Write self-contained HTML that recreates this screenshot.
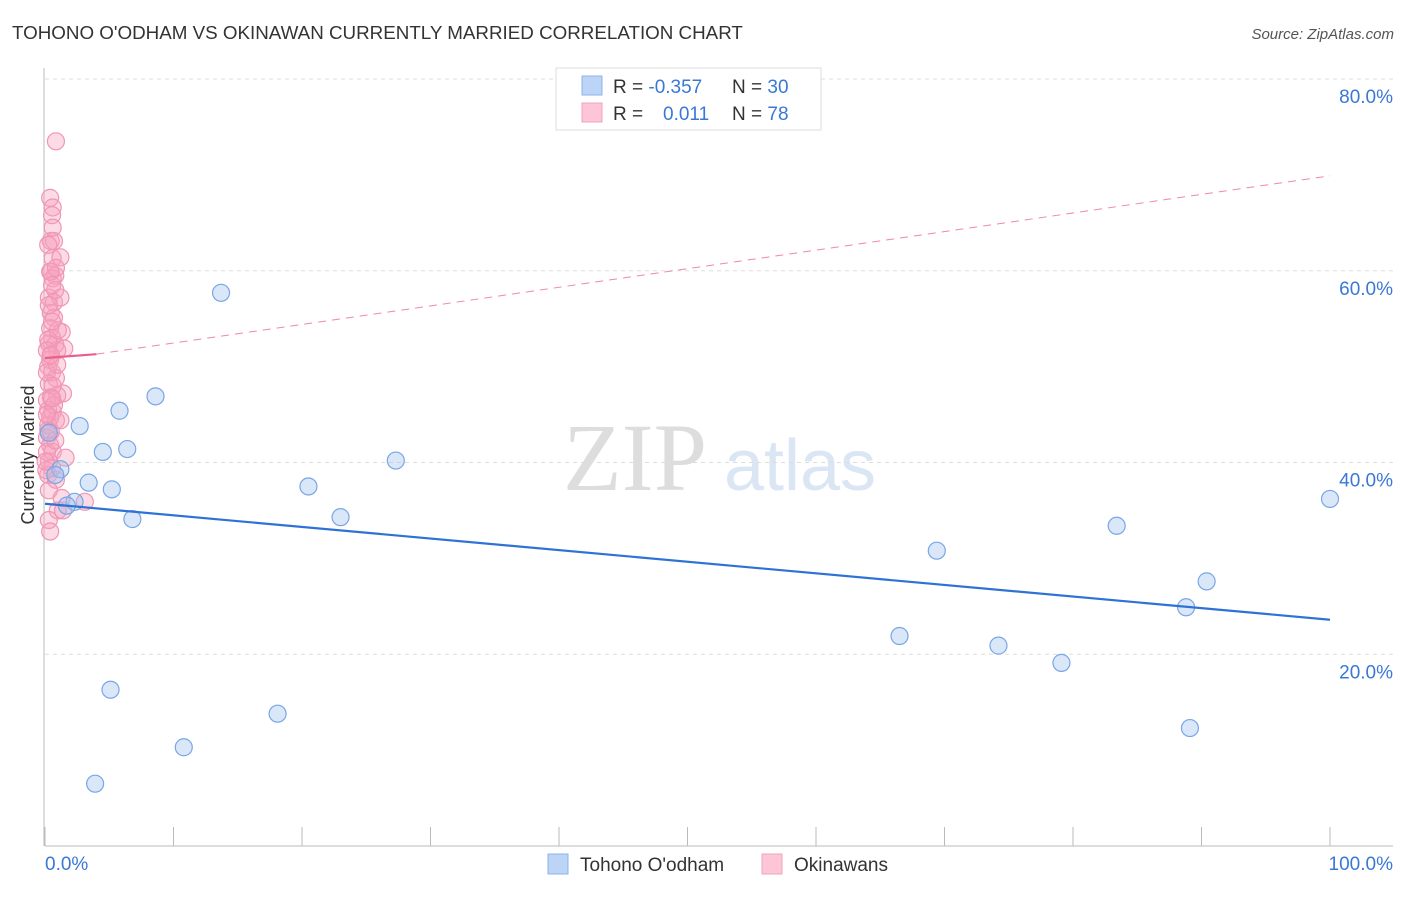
<!DOCTYPE html>
<html><head><meta charset="utf-8"><style>
body{margin:0;background:#fff;font-family:"Liberation Sans",sans-serif}
</style></head><body>
<svg id="c" width="1406" height="892" xmlns="http://www.w3.org/2000/svg" style="font-family:'Liberation Sans',sans-serif">
<text x="12" y="39" font-size="18.8" fill="#333">TOHONO O'ODHAM VS OKINAWAN CURRENTLY MARRIED CORRELATION CHART</text>
<text x="1394" y="39" font-size="15" fill="#555" text-anchor="end" font-style="italic">Source: ZipAtlas.com</text>
<g>
<text x="635" y="490" font-size="96" fill="#ddd" text-anchor="middle" font-family="Liberation Serif,serif">ZIP</text>
<text x="800" y="490" font-size="72" fill="#dbe6f5" text-anchor="middle">atlas</text>
</g>
<g id="grid"></g>
<g id="axes"></g>
<text transform="translate(34,455) rotate(-90)" font-size="18" fill="#333" text-anchor="middle">Currently Married</text>
<g id="marks"></g>
<g>
<rect x="556" y="68" width="265" height="62" fill="#fff" stroke="#ddd"/>
<rect x="582" y="76" width="20" height="19" fill="#bcd4f6" stroke="#8bb2ea"/>
<rect x="582" y="103" width="20" height="19" fill="#fcc6d6" stroke="#f0a0bc"/>
<text x="613" y="93" font-size="19" fill="#333">R = <tspan fill="#3a78d6">-0.357</tspan></text>
<text x="732" y="93" font-size="19" fill="#333">N = <tspan fill="#3a78d6">30</tspan></text>
<text x="613" y="120" font-size="19" fill="#333">R = <tspan fill="#3a78d6" x="663">0.011</tspan></text>
<text x="732" y="120" font-size="19" fill="#333">N = <tspan fill="#3a78d6">78</tspan></text>
</g>
<g>
<rect x="548" y="854" width="20" height="20" fill="#bcd4f6" stroke="#8bb2ea"/>
<text x="580" y="871" font-size="19" fill="#333">Tohono O'odham</text>
<rect x="762" y="854" width="20" height="20" fill="#fcc6d6" stroke="#f0a0bc"/>
<text x="794" y="871" font-size="19" fill="#333">Okinawans</text>
</g>
</svg>
<script>
const yTicks=[20,40,60,80];
const yTickLabels=["20.0%","40.0%","60.0%","80.0%"];
const xTicks=[0,10,20,30,40,50,60,70,80,90,100];
const blueX=[13.7,8.6,5.8,2.7,0.3,6.4,4.5,1.2,0.8,3.4,5.2,2.3,1.7,6.8,20.5,23.0,27.3,5.1,18.1,10.8,3.9,100,83.4,69.4,90.4,88.8,66.5,74.2,79.1,89.1];
const blueY=[57.7,46.9,45.4,43.8,43.1,41.4,41.1,39.3,38.7,37.9,37.2,35.9,35.5,34.1,37.5,34.3,40.2,16.3,13.8,10.3,6.5,36.2,33.4,30.8,27.6,24.9,21.9,20.9,19.1,12.3];
const pinkX=[0.85,0.4,0.6,0.55,0.45,0.7,0.6,1.2,0.45,0.8,0.6,0.3,0.7,0.45,0.7,1.3,0.4,0.55,0.3,0.8,1.5,0.95,0.4,0.25,0.55,0.85,0.3,1.4,0.45,0.95,0.25,0.6,0.85,0.25,0.45,0.15,0.4,0.6,1.6,0.3,0.55,0.25,0.85,1.0,3.1,1.4,0.3,0.4,0.15,0.45,0.25,1.0,1.2,0.8,0.3,0.55,0.15,0.6,0.15,0.7,0.4,0.15,0.8,0.3,1.3,0.1,0.95,0.4,0.25,0.6,0.85,0.55,0.25,1.2,0.05,0.55,0.15,0.45];
const pinkY=[73.5,67.6,66.6,65.8,63.1,63.1,61.3,61.4,59.9,59.5,59.2,57.2,56.7,55.6,55.1,53.6,54.0,53.0,52.4,52.3,51.9,51.7,50.7,50.0,49.4,48.8,48.2,47.2,46.8,47.0,45.5,45.3,44.4,43.9,43.2,42.6,41.8,41.1,40.5,40.1,39.4,38.7,38.2,35.0,35.9,35.0,34.0,32.8,49.4,51.2,52.8,53.8,57.2,58.0,56.4,54.7,51.7,48.0,46.5,46.0,44.7,41.1,42.3,37.1,36.3,39.2,50.2,59.9,62.7,64.5,60.3,58.5,43.4,44.4,40.1,46.7,45.0,51.2];
const blueTrend=[[0,35.7],[100,23.6]];
const pinkTrendSolid=[[0,50.9],[4,51.3]];
const pinkTrendDash=[[4,51.3],[100,69.9]];
const X=v=>45+v*12.85, Y=v=>846-v*9.5875;
const NS="http://www.w3.org/2000/svg";
function mk(tag,attrs,parent){const e=document.createElementNS(NS,tag);for(const k in attrs)e.setAttribute(k,attrs[k]);parent.appendChild(e);return e;}
const grid=document.getElementById('grid'),axes=document.getElementById('axes'),marks=document.getElementById('marks');
yTicks.forEach((t,i)=>{
 const l=mk('line',{x1:45,x2:1393,y1:Y(t),y2:Y(t),stroke:'#ddd','stroke-dasharray':'4,4'},grid);
 
 
 const tx=mk('text',{x:1393,y:Y(t)+24,'font-size':19,fill:'#3a78d6','text-anchor':'end'},axes);
 tx.textContent=yTickLabels[i];
 
 
});
const xa=mk('line',{x1:45,x2:1393,y1:846,y2:846,stroke:'#bbb'},axes);


const ya=mk('line',{x1:44,x2:44,y1:68,y2:846,stroke:'#bbb'},axes);


xTicks.forEach(t=>{const l=mk('line',{x1:X(t),x2:X(t),y1:827,y2:846,stroke:'#bbb'},axes);
 
 });
const xl0=mk('text',{x:45,y:870,'font-size':19,fill:'#3a78d6'},axes);xl0.textContent='0.0%';


const xl1=mk('text',{x:1393,y:870,'font-size':19,fill:'#3a78d6','text-anchor':'end'},axes);xl1.textContent='100.0%';


pinkX.forEach((v,i)=>{const c=mk('circle',{cx:X(v),cy:Y(pinkY[i]),r:8.5,fill:'rgba(246,160,188,0.38)',stroke:'#f096b4','stroke-width':1.2},marks);
 
 });
blueX.forEach((v,i)=>{const c=mk('circle',{cx:X(v),cy:Y(blueY[i]),r:8.5,fill:'rgba(160,195,240,0.4)',stroke:'#78a6e6','stroke-width':1.2},marks);
 
 });
function line(p,attrs,name){const l=mk('line',Object.assign({x1:X(p[0][0]),y1:Y(p[0][1]),x2:X(p[1][0]),y2:Y(p[1][1])},attrs),marks);
 
 }
line(blueTrend,{stroke:'#2f72d6','stroke-width':2.2},'tohono-trend-line');
line(pinkTrendSolid,{stroke:'#e8608c','stroke-width':2.2},'okinawan-trend-solid');
line(pinkTrendDash,{stroke:'#ee88aa','stroke-width':1,'stroke-dasharray':'8,6'},'okinawan-trend-dashed');
</script>
</body></html>
